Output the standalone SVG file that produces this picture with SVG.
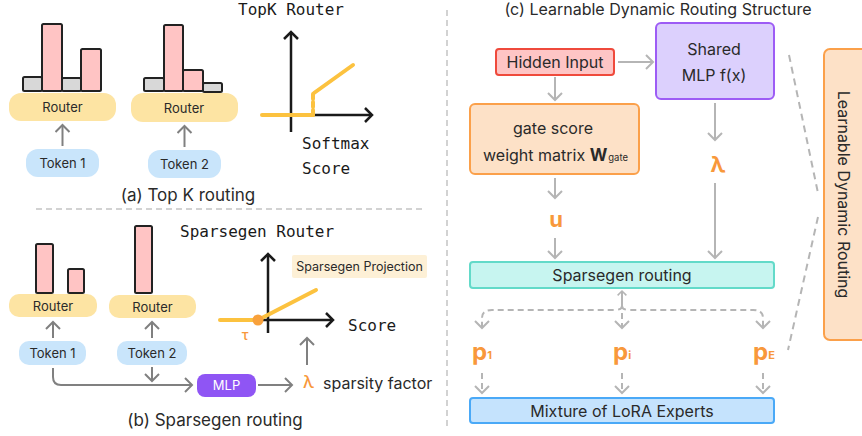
<svg xmlns="http://www.w3.org/2000/svg" width="862" height="436" viewBox="0 0 862 436">
<style>
.sans{font-family:Inter,"Noto Sans","Liberation Sans",sans-serif;fill:#2a2a2a}
.mono{font-family:"DejaVu Sans Mono","Liberation Mono",monospace;fill:#1a1a1a;font-size:16px}
.router{fill:#fde4a3}
.token{fill:#c9e5fb}
.bp{fill:#ffc4c4;stroke:#222;stroke-width:2}
.bg{fill:#d8d8d8;stroke:#222;stroke-width:2}
.axis{stroke:#1a1a1a;stroke-width:2.5;fill:none}
.curve{stroke:#fcc23f;stroke-width:4;fill:none;stroke-linecap:round}
.ca{stroke:#808080;stroke-width:2;fill:none}
.cc{stroke:#b5b5b5;stroke-width:2;fill:none}
.dash{stroke-dasharray:6 4}
.sep{stroke:#d2d2d2;stroke-width:2;fill:none;stroke-dasharray:6 4}
.or{fill:#f8983b;font-family:Inter,"Noto Sans","Liberation Sans",sans-serif;font-weight:bold}
</style>
<defs>
<marker id="mA" viewBox="0 0 16 16" refX="11" refY="8" markerWidth="16" markerHeight="16" markerUnits="userSpaceOnUse" orient="auto">
<path d="M4,1 L11,8 L4,15" fill="none" stroke="#808080" stroke-width="2"/>
</marker>
<marker id="mC" viewBox="0 0 16 16" refX="11" refY="8" markerWidth="16" markerHeight="16" markerUnits="userSpaceOnUse" orient="auto">
<path d="M4,1 L11,8 L4,15" fill="none" stroke="#b5b5b5" stroke-width="2"/>
</marker>
<marker id="mS" viewBox="0 0 16 16" refX="11" refY="8" markerWidth="10" markerHeight="10" markerUnits="userSpaceOnUse" orient="auto">
<path d="M4,1 L11,8 L4,15" fill="none" stroke="#b5b5b5" stroke-width="2.5"/>
</marker>
<marker id="mK" viewBox="0 0 16 16" refX="11" refY="8" markerWidth="16" markerHeight="16" markerUnits="userSpaceOnUse" orient="auto">
<path d="M4,1 L11,8 L4,15" fill="none" stroke="#1a1a1a" stroke-width="2.5"/>
</marker>
</defs>

<!-- separators -->
<g id="separators">
<line class="sep" x1="36" y1="209" x2="426" y2="209"/>
<line class="sep" x1="447" y1="10" x2="447" y2="428"/>
</g>

<!-- (a) Top K routing -->
<g id="a-router1">
<rect class="bg" x="23" y="77" width="19" height="14" rx="1.5"/>
<rect class="bp" x="42" y="24" width="20" height="67" rx="1.5"/>
<rect class="bg" x="62" y="78" width="19" height="13" rx="1.5"/>
<rect class="bp" x="81" y="49" width="20" height="42" rx="1.5"/>
<rect class="router" x="9" y="93" width="107" height="28" rx="12"/>
<text class="sans" x="62.5" y="112" font-size="13" text-anchor="middle">Router</text>
</g>
<g id="a-router2">
<rect class="bg" x="144" y="78" width="20" height="13" rx="1.5"/>
<rect class="bp" x="164" y="25" width="19" height="66" rx="1.5"/>
<rect class="bp" x="183" y="70" width="20" height="21" rx="1.5"/>
<rect class="bg" x="203" y="83" width="19" height="9" rx="1.5"/>
<rect class="router" x="131" y="93" width="107" height="29" rx="12"/>
<text class="sans" x="184" y="113" font-size="13" text-anchor="middle">Router</text>
</g>
<g id="a-token1">
<rect class="token" x="26" y="149" width="73" height="28" rx="12"/>
<text class="sans" x="62.5" y="168" font-size="13" text-anchor="middle">Token 1</text>
</g>
<g id="a-token2">
<rect class="token" x="148" y="150" width="73" height="28" rx="12"/>
<text class="sans" x="184.5" y="169" font-size="13" text-anchor="middle">Token 2</text>
</g>
<g id="a-chart">
<text class="mono" x="238" y="15">TopK Router</text>
<line class="axis" x1="291" y1="132" x2="291" y2="32" marker-end="url(#mK)"/>
<line class="axis" x1="291" y1="115" x2="372" y2="115" marker-end="url(#mK)"/>
<line class="curve" x1="262" y1="115" x2="313" y2="115"/>
<line class="curve" x1="313" y1="115" x2="313" y2="94" stroke-dasharray="5 3" stroke-linecap="butt"/>
<line class="curve" x1="314" y1="93" x2="353" y2="65"/>
<text class="mono" x="302" y="149">Softmax</text>
<text class="mono" x="302" y="174">Score</text>
</g>
<text class="sans" x="188" y="201" font-size="17" text-anchor="middle">(a) Top K routing</text>

<!-- (b) Sparsegen routing -->
<g id="b-router1">
<rect class="bp" x="36" y="244" width="17" height="49" rx="1.5"/>
<rect class="bp" x="68" y="269" width="16" height="24" rx="1.5"/>
<rect class="router" x="9" y="294" width="88" height="23" rx="10"/>
<text class="sans" x="53" y="311" font-size="13" text-anchor="middle">Router</text>
</g>
<g id="b-router2">
<rect class="bp" x="135" y="226" width="17" height="67" rx="1.5"/>
<rect class="router" x="109" y="295" width="87" height="23" rx="10"/>
<text class="sans" x="152.5" y="312" font-size="13" text-anchor="middle">Router</text>
</g>
<g id="b-token1">
<rect class="token" x="19" y="341" width="67" height="24" rx="10"/>
<text class="sans" x="52.5" y="358" font-size="13" text-anchor="middle">Token 1</text>
</g>
<g id="b-token2">
<rect class="token" x="117" y="341" width="70" height="24" rx="10"/>
<text class="sans" x="152" y="358" font-size="13" text-anchor="middle">Token 2</text>
</g>
<g id="b-mlp">
<rect x="197" y="374" width="59" height="23" rx="8" fill="#8f55f4"/>
<text x="226.5" y="390" font-size="13" text-anchor="middle" fill="#ffffff" font-family="Inter,'Noto Sans','Liberation Sans',sans-serif">MLP</text>
</g>
<g id="b-lambda">
<text class="or" x="308.5" y="388" font-size="17" text-anchor="middle" style="font-weight:500">λ</text>
<text class="sans" x="323" y="389" font-size="16">sparsity factor</text>
</g>
<g id="b-chart">
<text class="mono" x="180" y="237">Sparsegen Router</text>
<line class="axis" x1="268" y1="333" x2="268" y2="254" marker-end="url(#mK)"/>
<line class="axis" x1="260" y1="320" x2="333" y2="320" marker-end="url(#mK)"/>
<line class="curve" x1="220" y1="320" x2="258" y2="320"/>
<line class="curve" x1="258" y1="320" x2="316" y2="290"/>
<circle cx="258" cy="320" r="5.5" fill="#f8a13c"/>
<text class="or" x="245" y="340" font-size="14" text-anchor="middle" style="font-weight:500">τ</text>
<text class="mono" x="348" y="331">Score</text>
<rect x="292" y="255" width="135" height="23" rx="2" fill="#fdf0d6"/>
<text class="sans" x="359.5" y="271" font-size="12.5" text-anchor="middle">Sparsegen Projection</text>
</g>
<text class="sans" x="215" y="426" font-size="17" text-anchor="middle">(b) Sparsegen routing</text>

<!-- (c) Learnable Dynamic Routing Structure -->
<text class="sans" x="658" y="15" font-size="16" text-anchor="middle">(c) Learnable Dynamic Routing Structure</text>
<g id="c-hidden">
<rect x="496" y="49" width="118" height="26" rx="3" fill="#fec5c5" stroke="#ef4a3c" stroke-width="2"/>
<text class="sans" x="555" y="68" font-size="16" text-anchor="middle">Hidden Input</text>
</g>
<g id="c-shared">
<rect x="656" y="23" width="118" height="76" rx="5" fill="#dcd0fd" stroke="#9d5cf5" stroke-width="2"/>
<text class="sans" x="714" y="55" font-size="16" text-anchor="middle">Shared</text>
<text class="sans" x="714" y="81" font-size="16" text-anchor="middle">MLP f(x)</text>
</g>
<g id="c-gate">
<rect x="470" y="104" width="169" height="70" rx="5" fill="#fde1c7" stroke="#fba04a" stroke-width="2"/>
<text class="sans" x="553" y="134" font-size="16" text-anchor="middle">gate score</text>
<text class="sans" x="483" y="161" font-size="16">weight matrix <tspan font-weight="bold" font-size="17">W</tspan><tspan font-size="9.5" dx="1">gate</tspan></text>
</g>
<g id="c-u"><text class="or" x="556" y="227" font-size="22" text-anchor="middle">u</text></g>
<g id="c-lambda"><text class="or" x="718" y="172" font-size="22" text-anchor="middle">λ</text></g>
<g id="c-sparsegen">
<rect x="470" y="262" width="304" height="26" rx="3" fill="#c7f5f0" stroke="#63dac9" stroke-width="2"/>
<text class="sans" x="622" y="281" font-size="16" text-anchor="middle">Sparsegen routing</text>
</g>
<g id="c-p1"><text class="or" x="472" y="360" font-size="24">p<tspan font-size="11" dy="-1">1</tspan></text></g>
<g id="c-pi"><text class="or" x="613" y="360" font-size="24">p<tspan font-size="11" dy="-1">i</tspan></text></g>
<g id="c-pE"><text class="or" x="753" y="360" font-size="24">p<tspan font-size="11" dy="-1">E</tspan></text></g>
<g id="c-mixture">
<rect x="470" y="398" width="304" height="25" rx="3" fill="#c5e3fd" stroke="#4aa9f7" stroke-width="2"/>
<text class="sans" x="622" y="416.5" font-size="16" text-anchor="middle">Mixture of LoRA Experts</text>
</g>
<g id="c-learnable">
<rect x="824" y="49" width="50" height="291" rx="6" fill="#fde1c7" stroke="#fba04a" stroke-width="2"/>
<text class="sans" x="0" y="0" font-size="16" text-anchor="middle" transform="translate(837.5 194.5) rotate(90)">Learnable Dynamic Routing</text>
</g>

<!-- connectors -->
<g id="connectors">
<line class="ca" x1="62.5" y1="146" x2="62.5" y2="125" marker-end="url(#mA)"/>
<line class="ca" x1="184.5" y1="147" x2="184.5" y2="126" marker-end="url(#mA)"/>
<line class="ca" x1="53" y1="338" x2="53" y2="322" marker-end="url(#mA)"/>
<line class="ca" x1="152" y1="338" x2="152" y2="322" marker-end="url(#mA)"/>
<line class="ca" x1="152" y1="367" x2="152" y2="381" marker-end="url(#mA)"/>
<path class="ca" d="M53,368 V377 Q53,385 61,385 H192" marker-end="url(#mA)"/>
<line class="ca" x1="258" y1="385" x2="292" y2="385" marker-end="url(#mA)"/>
<line class="ca" x1="307" y1="365" x2="307" y2="338" marker-end="url(#mA)"/>

<line class="cc" x1="618" y1="62" x2="653" y2="62" marker-end="url(#mC)"/>
<line class="cc" x1="555" y1="77" x2="555" y2="100" marker-end="url(#mC)"/>
<line class="cc" x1="555" y1="178" x2="555" y2="198" marker-end="url(#mC)"/>
<line class="cc" x1="555" y1="238" x2="555" y2="258" marker-end="url(#mC)"/>
<line class="cc" x1="715" y1="103" x2="715" y2="140" marker-end="url(#mC)"/>
<line class="cc" x1="715" y1="183" x2="715" y2="258" marker-end="url(#mC)"/>
<path class="cc dash" d="M622,306 Q622,310 614,310 H492 Q482,310 482,318 V328" marker-end="url(#mC)"/>
<path class="cc dash" d="M622,306 Q622,310 630,310 H753 Q763,310 763,318 V328" marker-end="url(#mC)"/>
<line class="cc" x1="622" y1="306" x2="622" y2="291" marker-end="url(#mS)"/>
<line class="cc dash" x1="622" y1="313" x2="622" y2="328" marker-end="url(#mC)"/>
<line class="cc dash" x1="482" y1="373" x2="482" y2="393" marker-end="url(#mC)"/>
<line class="cc dash" x1="622" y1="373" x2="622" y2="393" marker-end="url(#mC)"/>
<line class="cc dash" x1="763" y1="373" x2="763" y2="393" marker-end="url(#mC)"/>
<line class="cc" x1="789" y1="55" x2="818" y2="193" stroke-dasharray="7 5"/>
<line class="cc" x1="818" y1="217" x2="788" y2="350" stroke-dasharray="7 5"/>
</g>
</svg>
